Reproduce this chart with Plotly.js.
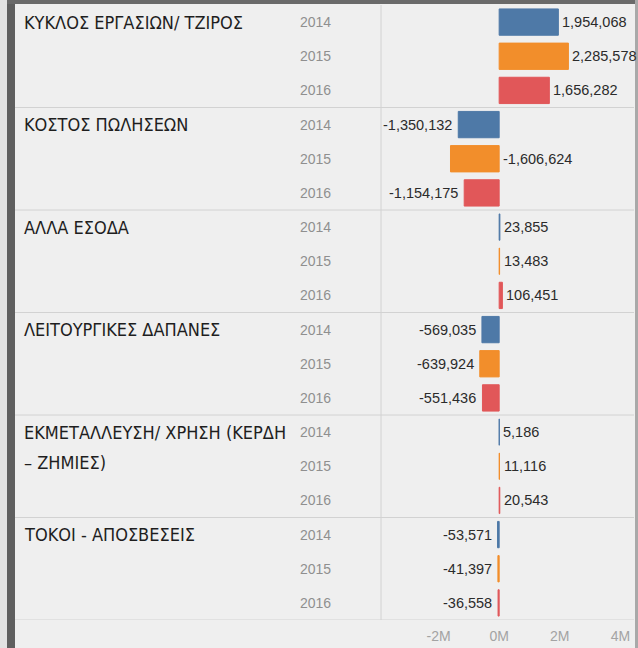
<!DOCTYPE html>
<html>
<head>
<meta charset="utf-8">
<script src="https://cdn.plot.ly/plotly-3.0.1.min.js"></script>
<style>
  html, body { margin: 0; padding: 0; background: #efefef; }
  #chart { width: 638px; height: 648px; }
</style>
</head>
<body>
<div id="chart"></div>
<script>
// ---- data ----
const categories = [
  "ΚΥΚΛΟΣ ΕΡΓΑΣΙΩΝ/ ΤΖΙΡΟΣ",
  "ΚΟΣΤΟΣ ΠΩΛΗΣΕΩΝ",
  "ΑΛΛΑ ΕΣΟΔΑ",
  "ΛΕΙΤΟΥΡΓΙΚΕΣ ΔΑΠΑΝΕΣ",
  "ΕΚΜΕΤΑΛΛΕΥΣΗ/ ΧΡΗΣΗ (ΚΕΡΔΗ<br>– ΖΗΜΙΕΣ)",
  "ΤΟΚΟΙ - ΑΠΟΣΒΕΣΕΙΣ"
];
const years = ["2014", "2015", "2016"];
const values2014 = [1954068, -1350132, 23855, -569035, 5186, -53571];
const values2015 = [2285578, -1606624, 13483, -639924, 11116, -41397];
const values2016 = [1656282, -1154175, 106451, -551436, 20543, -36558];
const tickValues = [-2000000, 0, 2000000, 4000000];
const tickLabels = ["-2M", "0M", "2M", "4M"];

// ---- styles ----
const series = [values2014, values2015, values2016];
const colors = ["#4e79a7", "#f28e2b", "#e15759"];
const nRows = categories.length * years.length;
const plotLeft = 381, plotW = 253;
const labelAtZero = { "1-1": true }; // label placed right of zero line

const traces = years.map((yr, k) => ({
  type: "bar",
  orientation: "h",
  name: yr,
  x: series[k],
  y: categories.map((c, i) => i * years.length + k),
  width: 0.77,
  marker: { color: colors[k], line: { color: colors[k], width: 1 } },
  hoverinfo: "none",
  showlegend: false
}));

const annotations = [];
categories.forEach((cat, i) => {
  cat.split("<br>").forEach((line, j) => {
    annotations.push({
      xref: "paper", yref: "y", x: 0, y: i * years.length,
      xanchor: "left", yanchor: "middle", xshift: 22 - plotLeft, yshift: -30 * j,
      text: line, showarrow: false,
      font: { family: "Liberation Sans Narrow, DejaVu Sans Condensed, sans-serif", size: 18, color: "#1e1e1e" }
    });
  });
  years.forEach((yr, k) => {
    annotations.push({
      xref: "paper", yref: "y", x: 0, y: i * years.length + k,
      xanchor: "left", yanchor: "middle", xshift: 298 - plotLeft,
      text: yr, showarrow: false,
      font: { family: "Liberation Sans, Arial, sans-serif", size: 14, color: "#8f8f8f" }
    });
    const v = series[k][i];
    const atZero = labelAtZero[i + "-" + k];
    annotations.push({
      xref: "x", yref: "y",
      x: atZero ? 0 : v, y: i * years.length + k,
      xanchor: (v >= 0 || atZero) ? "left" : "right", yanchor: "middle",
      xshift: (v >= 0 || atZero) ? 2 : -4,
      text: v.toLocaleString("en-US"), showarrow: false,
      font: { family: "Liberation Sans, Arial, sans-serif", size: 14.5, color: "#2b2b2b" }
    });
  });
});

const shapes = [];
// group separators
for (let g = 1; g <= categories.length; g++) {
  shapes.push({
    type: "line", xref: "paper", yref: "y", xsizemode: "pixel", xanchor: 0,
    x0: 15 - plotLeft, x1: plotW, y0: g * years.length - 0.5, y1: g * years.length - 0.5,
    line: { color: "#d2d2d2", width: 1 }
  });
}
// vertical divider at plot left
shapes.push({
  type: "line", xref: "paper", yref: "y", x0: 0, x1: 0, y0: -0.5, y1: nRows - 0.5,
  line: { color: "#d2d2d2", width: 1 }
});
// left light strip
shapes.push({
  type: "rect", xref: "paper", yref: "paper", xsizemode: "pixel", xanchor: 0,
  x0: -plotLeft, x1: 7 - plotLeft, y0: -0.2, y1: 1.2,
  fillcolor: "#e2e2e2", line: { width: 0 }, layer: "below"
});
// dark left bar
shapes.push({
  type: "rect", xref: "paper", yref: "paper", xsizemode: "pixel", xanchor: 0,
  x0: 7 - plotLeft, x1: 15 - plotLeft, y0: -0.2, y1: 1.2,
  fillcolor: "#5f5f5f", line: { width: 0 }
});
// dark top line
shapes.push({
  type: "rect", xref: "paper", yref: "paper", xsizemode: "pixel", ysizemode: "pixel",
  xanchor: 0, yanchor: 1,
  x0: 7 - plotLeft, x1: 638 - plotLeft, y0: 1, y1: 6,
  fillcolor: "#6a6a6a", line: { width: 0 }
});
// right border
shapes.push({
  type: "rect", xref: "paper", yref: "paper", xsizemode: "pixel", xanchor: 0,
  x0: plotW + 1, x1: plotW + 4, y0: -0.2, y1: 1.2,
  fillcolor: "#a9a9a9", line: { width: 0 }
});

const layout = {
  width: 638, height: 648,
  margin: { l: plotLeft, r: 638 - plotLeft - plotW, t: 5, b: 28, pad: 0 },
  paper_bgcolor: "#efefef",
  plot_bgcolor: "#efefef",
  barmode: "overlay",
  xaxis: {
    range: [-3900000, 4450000],
    tickvals: tickValues, ticktext: tickLabels,
    showgrid: false, zeroline: false, showline: false, ticks: "",
    ticklabelstandoff: 6,
    tickfont: { family: "Liberation Sans, Arial, sans-serif", size: 14, color: "#a3a3a3" },
    fixedrange: true
  },
  yaxis: {
    range: [nRows - 0.5, -0.5],
    showticklabels: false, showgrid: false, zeroline: false, showline: false, ticks: "",
    fixedrange: true
  },
  annotations: annotations,
  shapes: shapes
};

Plotly.newPlot("chart", traces, layout, { displayModeBar: false, staticPlot: true });
</script>
</body>
</html>
